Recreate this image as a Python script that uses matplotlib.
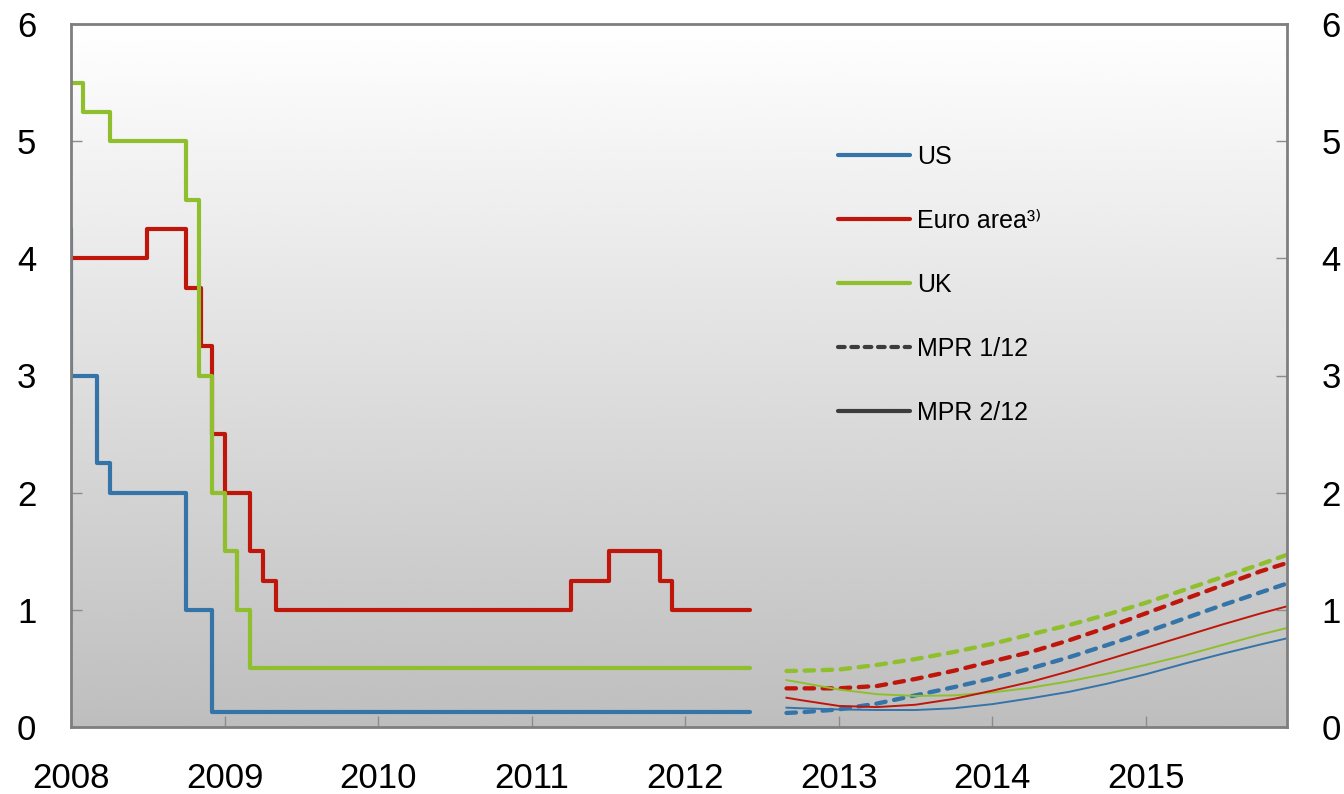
import numpy as np
import matplotlib
matplotlib.use("Agg")
import matplotlib.pyplot as plt
from matplotlib.lines import Line2D

plt.rcParams['font.family'] = ['Liberation Sans', 'DejaVu Sans']

# policy rates, step changes (decimal years)
us_x = [2008.0, 2008.003, 2008.169, 2008.254, 2008.749, 2008.919, 2012.423]
us_y = [4.25, 3.0, 2.25, 2.0, 1.0, 0.125, 0.125]

euro_x = [2008.0, 2008.495, 2008.749, 2008.847, 2008.919, 2009.003, 2009.166,
          2009.25, 2009.335, 2011.257, 2011.505, 2011.837, 2011.915, 2012.423]
euro_y = [4.0, 4.25, 3.75, 3.25, 2.5, 2.0, 1.5, 1.25, 1.0, 1.25, 1.5, 1.25, 1.0, 1.0]

uk_x = [2008.0, 2008.078, 2008.254, 2008.749, 2008.834, 2008.919, 2009.003,
        2009.08, 2009.166, 2012.423]
uk_y = [5.5, 5.25, 5.0, 4.5, 3.0, 2.0, 1.5, 1.0, 0.5, 0.5]

# forward rates
fwd_x = [2012.66, 2012.75, 2013.0, 2013.25, 2013.5, 2013.75, 2014.0, 2014.25,
         2014.5, 2014.75, 2015.0, 2015.25, 2015.5, 2015.75, 2015.92]
uk_mpr1 = [0.478, 0.48, 0.49, 0.53, 0.58, 0.64, 0.71, 0.79, 0.87, 0.96, 1.06,
           1.17, 1.28, 1.39, 1.47]
euro_mpr1 = [0.33, 0.33, 0.33, 0.35, 0.41, 0.48, 0.56, 0.64, 0.74, 0.85, 0.97,
             1.09, 1.21, 1.33, 1.40]
us_mpr1 = [0.12, 0.125, 0.15, 0.20, 0.27, 0.34, 0.415, 0.50, 0.595, 0.70, 0.81,
           0.925, 1.04, 1.15, 1.225]
us_mpr2 = [0.165, 0.16, 0.15, 0.145, 0.145, 0.16, 0.195, 0.245, 0.30, 0.37, 0.45,
           0.54, 0.625, 0.705, 0.757]
euro_mpr2 = [0.25, 0.23, 0.18, 0.17, 0.19, 0.24, 0.31, 0.385, 0.475, 0.575, 0.675,
             0.775, 0.875, 0.97, 1.03]
uk_mpr2 = [0.40, 0.38, 0.32, 0.28, 0.265, 0.27, 0.295, 0.335, 0.39, 0.455, 0.53,
           0.61, 0.70, 0.79, 0.845]

years = [2008, 2009, 2010, 2011, 2012, 2013, 2014, 2015]
yticks = [0, 1, 2, 3, 4, 5, 6]
labels = ['US', 'Euro area³⁾', 'UK', 'MPR 1/12', 'MPR 2/12']

blue = '#3574A9'
red = '#BF160C'
green = '#8FBF2C'
dark = '#3C3C3C'

fig = plt.figure(figsize=(13.44, 7.94), dpi=100)
ax = fig.add_axes([71/1344, 1-727/794, 1216/1344, 703/794])

# gradient background
grad = np.linspace(1.0, 0.745, 256).reshape(-1, 1)
ax.imshow(grad, extent=[0, 1, 0, 1], transform=ax.transAxes, aspect='auto',
          cmap='gray', vmin=0, vmax=1, zorder=0, interpolation='bicubic')

lw = 3.0
ax.step(us_x, us_y, where='post', color=blue, lw=lw, zorder=3, solid_capstyle='round')
ax.step(euro_x, euro_y, where='post', color=red, lw=lw, zorder=3, solid_capstyle='round')
ax.step(uk_x, uk_y, where='post', color=green, lw=lw, zorder=3, solid_capstyle='round')

dash = (2.2, 2.0)
for vals, c in [(uk_mpr1, green), (euro_mpr1, red), (us_mpr1, blue)]:
    ax.plot(fwd_x, vals, color=c, lw=3.1, dashes=dash, dash_capstyle='round', zorder=3)
for vals, c in [(uk_mpr2, green), (euro_mpr2, red), (us_mpr2, blue)]:
    ax.plot(fwd_x, vals, color=c, lw=1.4, zorder=3)

ax.set_xlim(2008.0, 2015.92)
ax.set_ylim(0, 6)
ax.set_xticks(years)
ax.set_xticklabels([str(y) for y in years])
ax.set_yticks(yticks)

for s in ax.spines.values():
    s.set_color('#7F7F7F')
    s.set_linewidth(2)
    s.set_zorder(4)

ax.tick_params(axis='y', direction='in', length=8, width=1, color='#8C8C8C',
               left=True, right=True, labelleft=True, labelright=True,
               labelsize=25, pad=25)
ax.tick_params(axis='x', direction='in', length=8, width=1, color='#8C8C8C',
               labelsize=25, pad=25)

handles = [Line2D([], [], color=blue, lw=3, solid_capstyle='round'),
           Line2D([], [], color=red, lw=3, solid_capstyle='round'),
           Line2D([], [], color=green, lw=3, solid_capstyle='round'),
           Line2D([], [], color=dark, lw=3, dashes=(1.6, 1.6), dash_capstyle='round'),
           Line2D([], [], color=dark, lw=3, solid_capstyle='round')]
ax.legend(handles, labels, loc='upper left', bbox_to_anchor=(0.6307, 0.828),
          frameon=False, fontsize=18, handlelength=2.9, handletextpad=0.25,
          labelspacing=1.6, borderpad=0, borderaxespad=0)

fig.savefig('out.png', dpi=100)
